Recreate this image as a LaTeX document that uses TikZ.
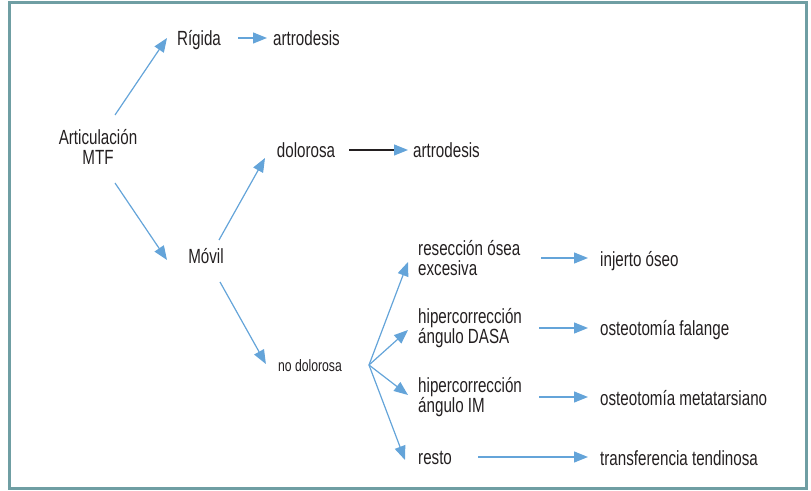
\documentclass[tikz,border=0pt]{standalone}
\usepackage{fontspec}
\setmainfont{Liberation Sans}[FakeStretch=0.74]
\usetikzlibrary{arrows.meta,positioning}
\definecolor{flecha}{HTML}{64A4D9}
\definecolor{marco}{HTML}{6F9EA3}
\definecolor{texto}{HTML}{231F20}

\begin{document}
\begin{tikzpicture}[x=1pt, y=1pt,
    base/.style={inner sep=0pt, text=texto, font=\fontsize{20.5}{20}\selectfont},
    txt/.style={base, text height=17.5pt, text depth=2.5pt},
    lft/.style={txt, anchor=west},
    two/.style={base, anchor=west, align=left},
    small/.style={txt, font=\fontsize{16.5}{17}\selectfont},
    flow/.style={draw=flecha, line width=1.2pt, -{Triangle[length=14pt, width=11pt]}}]
    \useasboundingbox (0,0) rectangle (811,490);
    \draw[marco, line width=3pt] (9.5,2) rectangle (806,487);
    \node[base, align=center] (art) at (98,343) {Articulación\\MTF};
    \node[txt] (rig) at (199,452) {Rígida};
    \node[lft] (art1) at (273,452) {artrodesis};
    \node[txt] (dol) at (306,340) {dolorosa};
    \node[lft] (art2) at (413,340) {artrodesis};
    \node[txt] (mov) at (206,234) {Móvil};
    \node[small] (nodol) at (310,126) {no dolorosa};
    \coordinate (fan) at (369,125);
    \node[two] (res) at (418,232) {resección ósea\\excesiva};
    \node[two] (dasa) at (418,162) {hipercorrección\\ángulo DASA};
    \node[two] (im) at (418,93) {hipercorrección\\ángulo IM};
    \node[lft] (resto) at (418,33) {resto};
    \node[lft] (inj) at (600,231) {injerto óseo};
    \node[lft] (fal) at (600,162) {osteotomía falange};
    \node[lft] (met) at (600,92) {osteotomía metatarsiano};
    \node[lft] (tra) at (600,32) {transferencia tendinosa};
    \draw[flow] ([shift={(17,32)}]art.center) -- ([xshift=-32pt]rig.center);
    \draw[flow, shorten <=17pt, shorten >=6pt] (rig.east) -- (art1.west);
    \draw[flow] ([shift={(17,-36)}]art.center) -- ([shift={(-39,-4)}]mov.center);
    \draw[flow] ([shift={(13,16)}]mov.center) -- ([shift={(-41,-8)}]dol.center);
    \draw[flow, draw=texto, -{Triangle[length=14pt, width=11pt, color=flecha]}, shorten <=14pt, shorten >=5pt] (dol.east) -- (art2.west);
    \draw[flow] ([shift={(14,-26)}]mov.center) -- ([xshift=-12pt]nodol.west);
    \draw[flow] (fan) -- ([shift={(-10,-4)}]res.west);
    \draw[flow] (fan) -- ([shift={(-10,-2)}]dasa.west);
    \draw[flow] (fan) -- ([shift={(-10,2)}]im.west);
    \draw[flow] (fan) -- ([shift={(-13,-3)}]resto.west);
    \draw[flow, shorten <=21pt, shorten >=12pt] (res.east) -- (res.east -| inj.west);
    \draw[flow, shorten <=17pt, shorten >=12pt] (dasa.east) -- (dasa.east -| fal.west);
    \draw[flow, shorten <=17pt, shorten >=12pt] (im.east) -- (im.east -| met.west);
    \draw[flow, shorten <=26pt, shorten >=12pt] (resto.east) -- (resto.east -| tra.west);
\end{tikzpicture}
\end{document}
